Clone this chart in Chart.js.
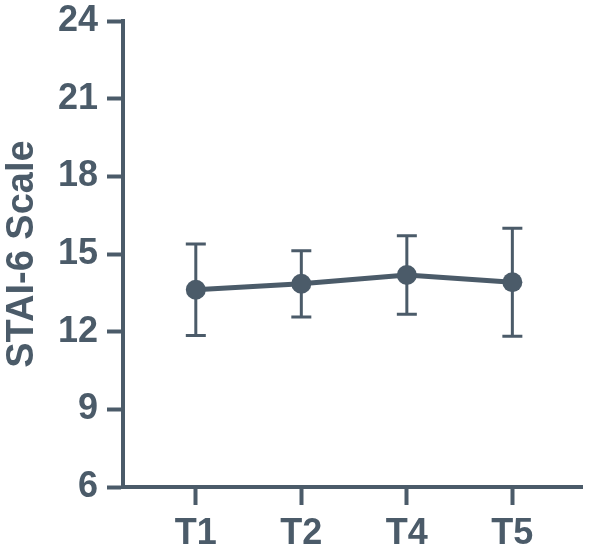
<!DOCTYPE html>
<html>
<head>
<meta charset="utf-8">
<script src="https://cdn.jsdelivr.net/npm/chart.js@4"></script>
<style>
    body { margin: 0; background: #fff; }
    #wrap { width: 592px; height: 559px; }
</style>
</head>
<body>
<div id="wrap"><canvas id="chart" width="592" height="559"></canvas></div>
<script>
const timepoints = ['T1', 'T2', 'T4', 'T5'];
const meanScores = [13.62, 13.85, 14.19, 13.91];
const sdScores = [1.77, 1.28, 1.52, 2.09];
const yTicks = [6, 9, 12, 15, 18, 21, 24];

const INK = '#4b5b69';
const FONT = "'Liberation Sans', Arial, sans-serif";

// error bars drawn from the same scales as the points
const errorBars = {
    id: 'errorBars',
    beforeDatasetsDraw(chart) {
        const ctx = chart.ctx;
        const xs = chart.scales.x;
        const ys = chart.scales.y;
        ctx.save();
        ctx.strokeStyle = INK;
        ctx.lineWidth = 3;
        meanScores.forEach((m, i) => {
            const x = xs.getPixelForValue(i + 1);
            const top = ys.getPixelForValue(m + sdScores[i]);
            const bot = ys.getPixelForValue(m - sdScores[i]);
            ctx.beginPath();
            ctx.moveTo(x, top);
            ctx.lineTo(x, bot);
            ctx.moveTo(x - 10, top);
            ctx.lineTo(x + 10, top);
            ctx.moveTo(x - 10, bot);
            ctx.lineTo(x + 10, bot);
            ctx.stroke();
        });
        ctx.restore();
    }
};

new Chart(document.getElementById('chart'), {
    type: 'line',
    data: {
        datasets: [{
            data: meanScores.map((v, i) => ({ x: i + 1, y: v })),
            borderColor: INK,
            backgroundColor: INK,
            borderWidth: 5,
            pointRadius: 10,
            pointBackgroundColor: INK,
            pointBorderWidth: 0,
            tension: 0
        }]
    },
    options: {
        responsive: false,
        animation: false,
        devicePixelRatio: 1,
        layout: { padding: { top: 0, right: 2, bottom: 0, left: 0 } },
        plugins: {
            legend: { display: false },
            tooltip: { enabled: false }
        },
        scales: {
            x: {
                type: 'linear',
                min: 0.31,
                max: 4.66,
                afterBuildTicks: s => { s.ticks = timepoints.map((_, i) => ({ value: i + 1 })); },
                afterFit: s => { s.height = 72; },
                ticks: {
                    callback: v => timepoints[v - 1] || '',
                    color: INK,
                    font: { family: FONT, size: 36, weight: 'bold' },
                    padding: 7,
                    maxRotation: 0,
                    autoSkip: false
                },
                grid: {
                    drawOnChartArea: false,
                    drawTicks: true,
                    tickLength: 18,
                    tickWidth: 4,
                    tickColor: INK
                },
                border: { display: true, color: INK, width: 4 }
            },
            y: {
                min: 6,
                max: 24,
                afterBuildTicks: s => { s.ticks = yTicks.map(v => ({ value: v })); },
                afterFit: s => { s.width = 123; },
                ticks: {
                    color: INK,
                    font: { family: FONT, size: 36, weight: 'bold', lineHeight: 0.67 },
                    padding: 9
                },
                grid: {
                    drawOnChartArea: false,
                    drawTicks: true,
                    tickLength: 16,
                    tickWidth: 4,
                    tickColor: INK
                },
                border: { display: true, color: INK, width: 4 },
                title: {
                    display: true,
                    text: 'STAI-6 Scale',
                    color: INK,
                    font: { family: FONT, size: 38, weight: 'bold' },
                    padding: { top: 0, bottom: 0 }
                }
            }
        }
    },
    plugins: [errorBars]
});
</script>
</body>
</html>
